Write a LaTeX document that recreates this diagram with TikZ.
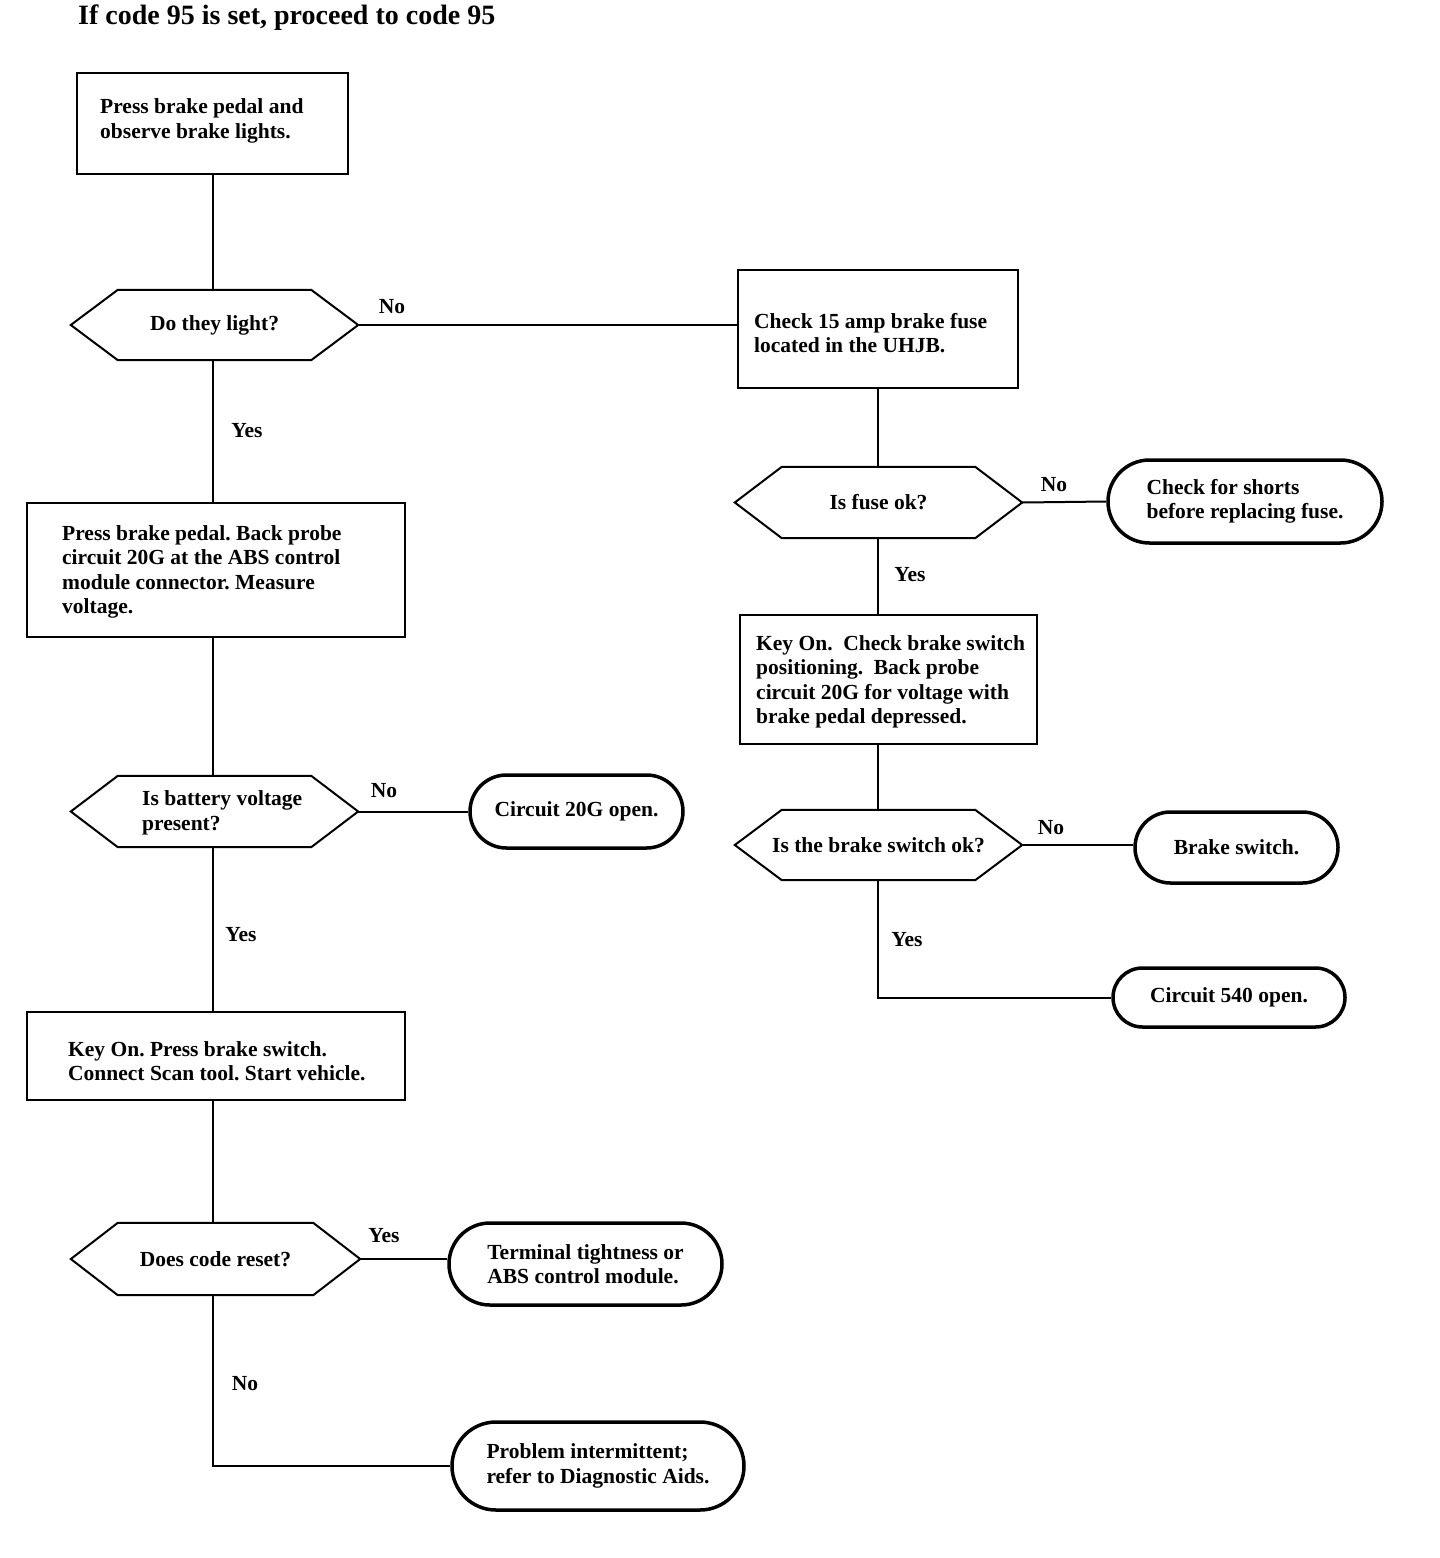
\documentclass[tikz,border=0pt]{standalone}
\usepackage{fontspec}
\setmainfont{Liberation Serif}
\usetikzlibrary{shapes.misc}
\tikzset{
  every node/.style={font=\fontsize{21.5}{24.5}\selectfont\bfseries\frenchspacing},
  procbox/.style={draw, line width=2pt, rectangle, inner sep=0pt},
  proctext/.style={inner sep=0pt, anchor=west, align=left},
  hexbox/.style={rectangle, inner sep=0pt, align=center},
  termbox/.style={draw, line width=3.5pt, rounded rectangle, inner sep=0pt, align=left},
  conn/.style={line width=2pt},
  lbl/.style={inner sep=0pt}
}
\newcommand{\drawhexagon}[2]{%
  \draw[line width=2pt] (#1.west) -- ([xshift=#2]#1.north west) -- ([xshift=-#2]#1.north east)
    -- (#1.east) -- ([xshift=-#2]#1.south east) -- ([xshift=#2]#1.south west) -- cycle;}
\begin{document}
\begin{tikzpicture}[x=1pt,y=-1pt]
\useasboundingbox[fill=white] (0,0) rectangle (1440,1558);

\node[inner sep=0pt, anchor=west, font=\fontsize{28}{32}\selectfont\bfseries] (title) at (78,18) {If code 95 is set, proceed to code 95};

% left column
\node[procbox, minimum width=271pt, minimum height=101pt] (b1) at (212.5,123.5) {};
\node[proctext] (b1t) at (100,121) {Press brake pedal and\\observe brake lights.};
\node[hexbox, minimum width=287pt, minimum height=70pt] (d1) at (214.5,325) {Do they light?};
\drawhexagon{d1}{47pt}

\node[procbox, minimum width=378pt, minimum height=134pt] (b4) at (216,570) {};
\node[proctext] (b4t) at (62,572) {Press brake pedal. Back probe\\circuit 20G at the ABS control\\module connector. Measure\\voltage.};
\node[hexbox, minimum width=287pt, minimum height=71pt] (d4) at (214.5,811.5) {};
\node[proctext] (d4t) at (142,813) {Is battery voltage\\present?};
\drawhexagon{d4}{47pt}

\node[termbox, minimum width=213pt, minimum height=73pt, align=center] (t4) at (576.5,811.5) {Circuit 20G open.};

\node[procbox, minimum width=378pt, minimum height=88pt] (b5) at (216,1056) {};
\node[proctext] (b5t) at (68,1061) {Key On. Press brake switch.\\Connect Scan tool. Start vehicle.};
\node[hexbox, minimum width=289pt, minimum height=72pt] (d5) at (215.5,1259) {Does code reset?};
\drawhexagon{d5}{47pt}

\node[termbox, minimum width=273pt, minimum height=82pt] (t5) at (585.5,1264) {Terminal tightness or\\ABS control module.};
\node[termbox, minimum width=292pt, minimum height=88pt] (t6) at (598,1466) {Problem intermittent;\\refer to Diagnostic Aids.};

% right column
\node[procbox, minimum width=280pt, minimum height=118pt] (b2) at (878,329) {};
\node[proctext] (b2t) at (754,333) {Check 15 amp brake fuse\\located in the UHJB.};
\node[hexbox, minimum width=287pt, minimum height=71pt] (d2) at (878.5,502.5) {Is fuse ok?};
\drawhexagon{d2}{47pt}
\node[termbox, minimum width=274pt, minimum height=83pt] (t1) at (1245,501.5) {Check for shorts\\before replacing fuse.};

\node[procbox, minimum width=297pt, minimum height=129pt] (b3) at (888.5,679.5) {};
\node[proctext] (b3t) at (756,682) {Key On.\ \ Check brake switch\\positioning.\ \ Back probe\\circuit 20G for voltage with\\brake pedal depressed.};
\node[hexbox, minimum width=287pt, minimum height=70pt] (d3) at (878.5,845) {Is the brake switch ok?};
\drawhexagon{d3}{47pt}
\node[termbox, minimum width=203pt, minimum height=71pt, align=center] (t2) at (1236.5,847.5) {Brake switch.};
\node[termbox, minimum width=232pt, minimum height=59pt, align=center] (t3) at (1229,997.5) {Circuit 540 open.};

% connectors
\draw[conn] (b1.south) -- (b1.south |- d1.north);
\draw[conn] (d1.east) -- (d1.east -| b2.west);
\draw[conn] (b1.south |- d1.south) -- (b1.south |- b4.north);
\draw[conn] (b1.south |- b4.south) -- (b1.south |- d4.north);
\draw[conn] (d4.east) -- (t4.west);
\draw[conn] (b1.south |- d4.south) -- (b1.south |- b5.north);
\draw[conn] (b1.south |- b5.south) -- (b1.south |- d5.north);
\draw[conn] (d5.east) -- (d5.east -| t5.west);
\draw[conn] (b1.south |- d5.south) |- (t6.west);

\draw[conn] (b2.south) -- (b2.south |- d2.north);
\draw[conn] (d2.east) -- (t1.west);
\draw[conn] (b2.south |- d2.south) -- (b2.south |- b3.north);
\draw[conn] (b2.south |- b3.south) -- (b2.south |- d3.north);
\draw[conn] (d3.east) -- (d3.east -| t2.west);
\draw[conn] (b2.south |- d3.south) |- (t3.west);

% labels
\node[lbl] (l1) at (392,307) {No};
\node[lbl] (l2) at (247,431) {Yes};
\node[lbl] (l3) at (1054,485) {No};
\node[lbl] (l4) at (910,575) {Yes};
\node[lbl] (l5) at (1051,828) {No};
\node[lbl] (l6) at (907,940) {Yes};
\node[lbl] (l7) at (384,791) {No};
\node[lbl] (l8) at (241,935) {Yes};
\node[lbl] (l9) at (384,1236) {Yes};
\node[lbl] (l10) at (245,1384) {No};
\end{tikzpicture}
\end{document}
